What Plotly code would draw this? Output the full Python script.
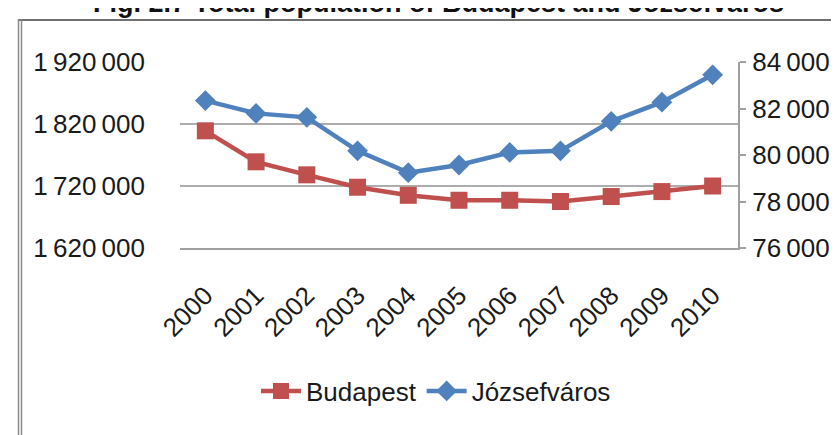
import plotly.graph_objects as go

years = ["2000", "2001", "2002", "2003", "2004", "2005", "2006", "2007", "2008", "2009", "2010"]
budapest = [1809000, 1759000, 1738000, 1718000, 1705000, 1697000, 1697000, 1695000, 1703000, 1711000, 1720000]
jozsefvaros = [82340, 81790, 81620, 80180, 79240, 79570, 80110, 80180, 81450, 82270, 83450]

left_ticks = [1620000, 1720000, 1820000, 1920000]
left_labels = ["1\u2009620\u2009000", "1\u2009720\u2009000", "1\u2009820\u2009000", "1\u2009920\u2009000"]
right_ticks = [76000, 78000, 80000, 82000, 84000]
right_labels = ["76\u2009000", "78\u2009000", "80\u2009000", "82\u2009000", "84\u2009000"]

title_text = "Fig. 2.7 Total population of Budapest and Józsefváros"

FONT = "Liberation Sans, Arial, sans-serif"
RED = "#C0504D"
BLUE = "#4F81BD"
GRID = "#ADADAD"
TXT = "#1a1a1a"

fig = go.Figure()
fig.add_trace(go.Scatter(
    x=years, y=budapest, name="Budapest", mode="lines+markers",
    line=dict(color=RED, width=4.5),
    marker=dict(symbol="square", size=17, color=RED),
    yaxis="y",
))
fig.add_trace(go.Scatter(
    x=years, y=jozsefvaros, name="Józsefváros", mode="lines+markers",
    line=dict(color=BLUE, width=4.5),
    marker=dict(symbol="diamond", size=16, color=BLUE),
    yaxis="y2",
))

L, R, T, B = 172, 109, 54, 195
W, H = 839, 435
PW = W - L - R
PH = H - T - B

def px(x):
    return (x - L) / PW

def py(y):
    return (H - B - y) / PH

fig.update_layout(
    width=W, height=H,
    margin=dict(l=L, r=R, t=T, b=B, autoexpand=False),
    paper_bgcolor="white", plot_bgcolor="white",
    font=dict(family=FONT, size=26, color=TXT),
    showlegend=True,
    legend=dict(
        orientation="h", x=px(428), y=py(383), xanchor="center", yanchor="middle",
        font=dict(family=FONT, size=26, color=TXT),
        itemwidth=40, bgcolor="rgba(0,0,0,0)",
    ),
    xaxis=dict(
        type="category", range=[-0.5, 10.5], tickangle=-45,
        showline=True, linecolor="#A0A0A0", linewidth=2,
        showgrid=False, ticks="", ticklabelstandoff=20,
        tickfont=dict(family=FONT, size=26, color=TXT),
    ),
    yaxis=dict(
        range=[1620000, 1920000], tickvals=left_ticks, ticktext=left_labels,
        showgrid=True, gridcolor=GRID, gridwidth=1.5, zeroline=False,
        showline=False, ticks="", ticklabelstandoff=34,
        tickfont=dict(family=FONT, size=26, color=TXT),
    ),
    yaxis2=dict(
        range=[76000, 84000], tickvals=right_ticks, ticktext=right_labels,
        overlaying="y", side="right", showgrid=False, zeroline=False,
        showline=True, linecolor="#A0A0A0", linewidth=2,
        ticks="outside", ticklen=6, tickcolor="#A0A0A0", tickwidth=1.5,
        ticklabelstandoff=1,
        tickfont=dict(family=FONT, size=26, color=TXT),
    ),
    annotations=[dict(
        text="<b>" + title_text + "</b>", xref="paper", yref="paper",
        x=px(430), y=py(-5), xanchor="center", yanchor="middle", showarrow=False,
        font=dict(family=FONT, size=27, color="#111111"),
    )],
    shapes=[
        dict(type="line", xref="paper", yref="paper", x0=px(10), x1=px(839), y0=py(12), y1=py(12),
             line=dict(color="#707070", width=2)),
        dict(type="line", xref="paper", yref="paper", x0=px(10.5), x1=px(10.5), y0=py(11), y1=py(435),
             line=dict(color="#8A8A8A", width=1.5)),
        dict(type="line", xref="paper", yref="paper", x0=px(13.5), x1=px(13.5), y0=py(11), y1=py(435),
             line=dict(color="#8A8A8A", width=1.5)),
    ],
)

fig.write_html("out.html")
